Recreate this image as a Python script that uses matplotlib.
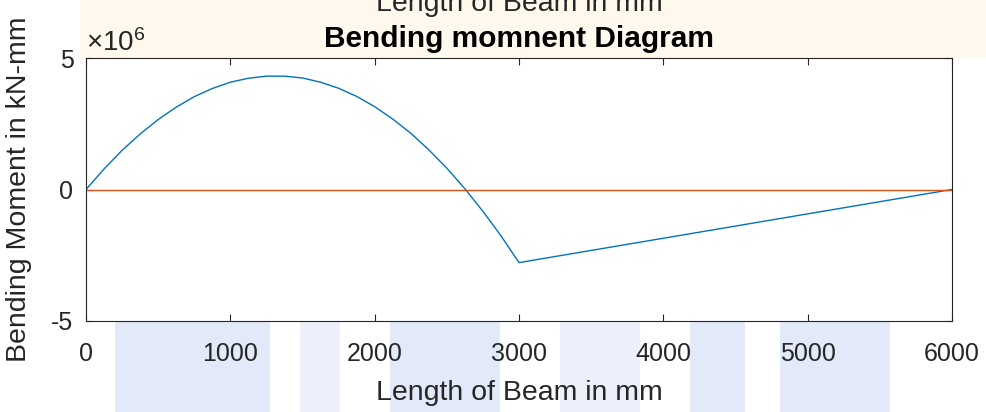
import numpy as np
import matplotlib
matplotlib.use("Agg")
import matplotlib.pyplot as plt
from matplotlib.patches import Rectangle
from matplotlib.ticker import FuncFormatter

plt.rcParams['font.family'] = ['Liberation Sans', 'DejaVu Sans']
plt.rcParams['mathtext.fontset'] = 'custom'
plt.rcParams['mathtext.rm'] = 'Liberation Sans'
plt.rcParams['mathtext.it'] = 'Liberation Sans'

# bending moment (N-mm)
x_span = [0, 125, 250, 375, 500, 625, 750, 875, 1000, 1125, 1250, 1375, 1500,
          1625, 1750, 1875, 2000, 2125, 2250, 2375, 2500, 2625, 2750, 2875, 3000, 6000]
moment = [0, 0.78e6, 1.49e6, 2.11e6, 2.66e6, 3.13e6, 3.53e6, 3.84e6, 4.08e6, 4.23e6,
          4.31e6, 4.31e6, 4.24e6, 4.08e6, 3.85e6, 3.54e6, 3.15e6, 2.68e6, 2.14e6,
          1.51e6, 0.81e6, 0.03e6, -0.83e6, -1.76e6, -2.78e6, 0]
base_x = [0, 6000]
base_y = [0, 0]
x_ticks = [0, 1000, 2000, 3000, 4000, 5000, 6000]
y_ticks = [-5e6, 0, 5e6]

W, H = 987, 412
fig = plt.figure(figsize=(W / 100, H / 100), dpi=100)
fig.patch.set_facecolor('white')

# faint watermark behind the figure (pixel boxes)
def block(x0, y0, x1, y1, c):
    fig.patches.append(Rectangle((x0 / W, 1 - y1 / H), (x1 - x0) / W, (y1 - y0) / H,
                                 transform=fig.transFigure, color=c, zorder=-10, lw=0))

block(80, 0, 987, 58, '#fef9ec')
block(115, 322, 270, 412, '#e2e9f9')
block(300, 322, 340, 412, '#ebf0fb')
block(390, 322, 500, 412, '#e2e9f9')
block(560, 322, 640, 412, '#ebf0fb')
block(690, 322, 745, 412, '#e2e9f9')
block(780, 322, 890, 412, '#e2e9f9')

ax = fig.add_axes([86 / W, 1 - 321 / H, 866 / W, 263 / H])
ax.set_facecolor('white')
ax.plot(x_span, moment, color='#0072BD', lw=1.0)
ax.plot(base_x, base_y, color='#D95319', lw=1.0)

ax.set_xlim(0, 6000)
ax.set_ylim(-5e6, 5e6)
ax.set_xticks(x_ticks)
ax.set_yticks(y_ticks)
ax.yaxis.set_major_formatter(FuncFormatter(lambda v, p: '%g' % (v / 1e6)))
ax.tick_params(direction='in', top=True, right=True, length=5, labelsize=18,
               colors='#262626')
ax.tick_params(axis='x', pad=15)
ax.tick_params(axis='y', pad=9)
for s in ax.spines.values():
    s.set_color('#262626')
    s.set_linewidth(0.8)

ax.set_xlabel('Length of Beam in mm', fontsize=20.5, color='#262626', labelpad=10)
ax.set_ylabel('Bending Moment in kN-mm', fontsize=20.5, color='#262626', labelpad=14)
ax.set_title('Bending momnent Diagram', fontsize=21.5, fontweight='bold', pad=8)
ax.annotate(r'$\times\mathregular{10^{6}}$', xy=(0, 1), xycoords='axes fraction',
            xytext=(0, 5), textcoords='offset points', fontsize=20,
            color='#262626', ha='left', va='baseline')

# label of the subplot above, cut off by the crop
fig.text(0.526, 1 - 11 / H, 'Length of Beam in mm', fontsize=20.5, color='#262626',
         ha='center', va='baseline')

fig.savefig('out.png', dpi=100)
